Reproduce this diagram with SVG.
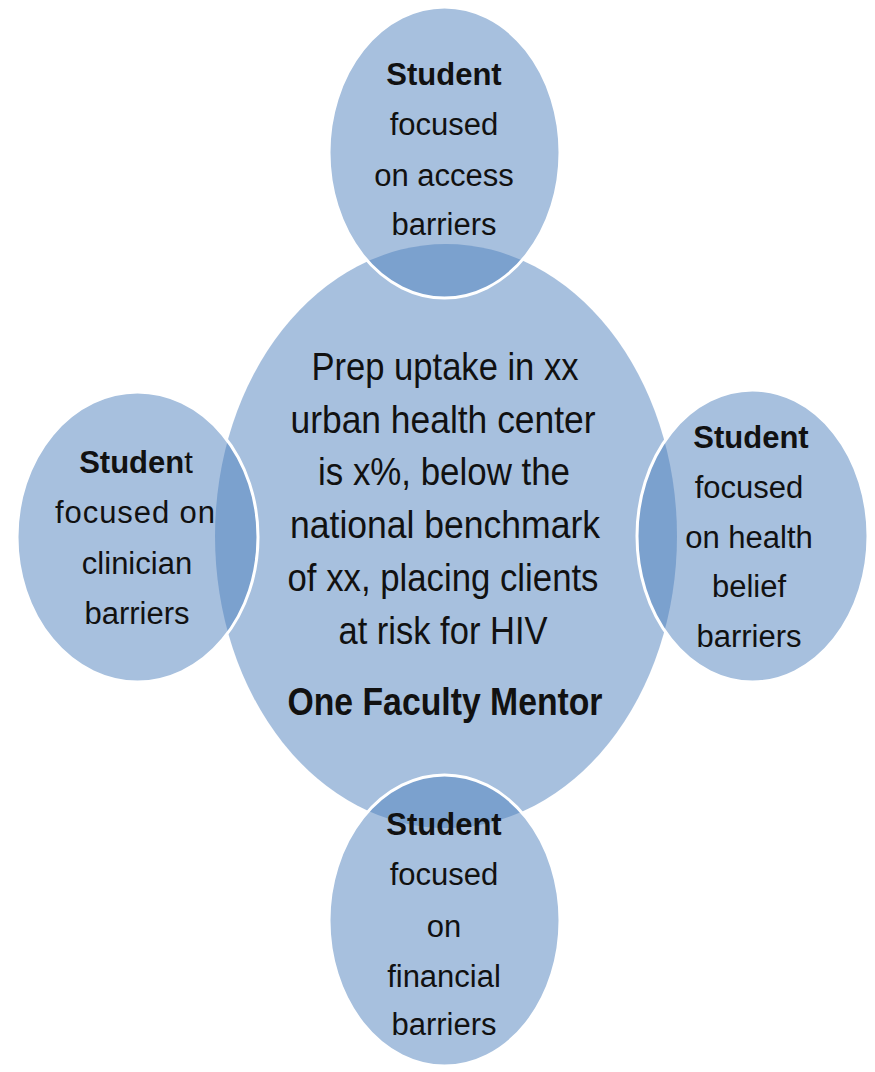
<svg xmlns="http://www.w3.org/2000/svg" width="875" height="1072" viewBox="0 0 875 1072">
  <style>
    .bg { fill: #ffffff; }
    .center { fill: #4F81BD; fill-opacity: 0.5; stroke: none; }
    .sat { fill: #4F81BD; fill-opacity: 0.5; stroke: #ffffff; stroke-width: 3; }
    text { font-family: "Liberation Sans", Arial, sans-serif; fill: #111111; text-anchor: middle; }
    .st { font-size: 31px; }
    .ct { font-size: 38px; }
    .b { font-weight: bold; }
  </style>
  <rect class="bg" x="0" y="0" width="875" height="1072"/>

  <g id="node-center">
    <ellipse class="center" cx="446" cy="536" rx="231" ry="292"/>
  </g>

  <g id="node-top">
    <ellipse class="sat" cx="444.5" cy="152.5" rx="115.5" ry="145.5"/>
  </g>
  <g id="node-left">
    <ellipse class="sat" cx="137.5" cy="537" rx="120.5" ry="145"/>
  </g>
  <g id="node-right">
    <ellipse class="sat" cx="752.5" cy="536" rx="115.5" ry="146"/>
  </g>
  <g id="node-bottom">
    <ellipse class="sat" cx="444.5" cy="920.5" rx="115.5" ry="145.5"/>
  </g>

  <g id="labels-center">
    <text class="ct" x="445" y="380" textLength="267" lengthAdjust="spacingAndGlyphs">Prep uptake in xx</text>
    <text class="ct" x="443" y="433" textLength="305" lengthAdjust="spacingAndGlyphs">urban health center</text>
    <text class="ct" x="444" y="485" textLength="252" lengthAdjust="spacingAndGlyphs">is x%, below the</text>
    <text class="ct" x="445" y="538" textLength="310" lengthAdjust="spacingAndGlyphs">national benchmark</text>
    <text class="ct" x="443" y="591" textLength="311" lengthAdjust="spacingAndGlyphs">of xx, placing clients</text>
    <text class="ct" x="443" y="644" textLength="209" lengthAdjust="spacingAndGlyphs">at risk for HIV</text>
    <text class="ct b" x="445" y="715" textLength="315" lengthAdjust="spacingAndGlyphs">One Faculty Mentor</text>
  </g>

  <g id="labels-top">
    <text class="st b" x="444" y="85">Student</text>
    <text class="st" x="444" y="135">focused</text>
    <text class="st" x="444" y="186">on access</text>
    <text class="st" x="444" y="235">barriers</text>
  </g>

  <g id="labels-left">
    <text class="st" x="136" y="473"><tspan class="b">Studen</tspan>t</text>
    <text class="st" x="135" y="523" textLength="160" lengthAdjust="spacing">focused on</text>
    <text class="st" x="137" y="574">clinician</text>
    <text class="st" x="137" y="624">barriers</text>
  </g>

  <g id="labels-right">
    <text class="st b" x="751" y="448">Student</text>
    <text class="st" x="749" y="498">focused</text>
    <text class="st" x="749" y="548">on health</text>
    <text class="st" x="749" y="597">belief</text>
    <text class="st" x="749" y="647">barriers</text>
  </g>

  <g id="labels-bottom">
    <text class="st b" x="444" y="835">Student</text>
    <text class="st" x="444" y="885">focused</text>
    <text class="st" x="444" y="937">on</text>
    <text class="st" x="444" y="987">financial</text>
    <text class="st" x="444" y="1035">barriers</text>
  </g>

  <g id="connectors"></g>
</svg>
